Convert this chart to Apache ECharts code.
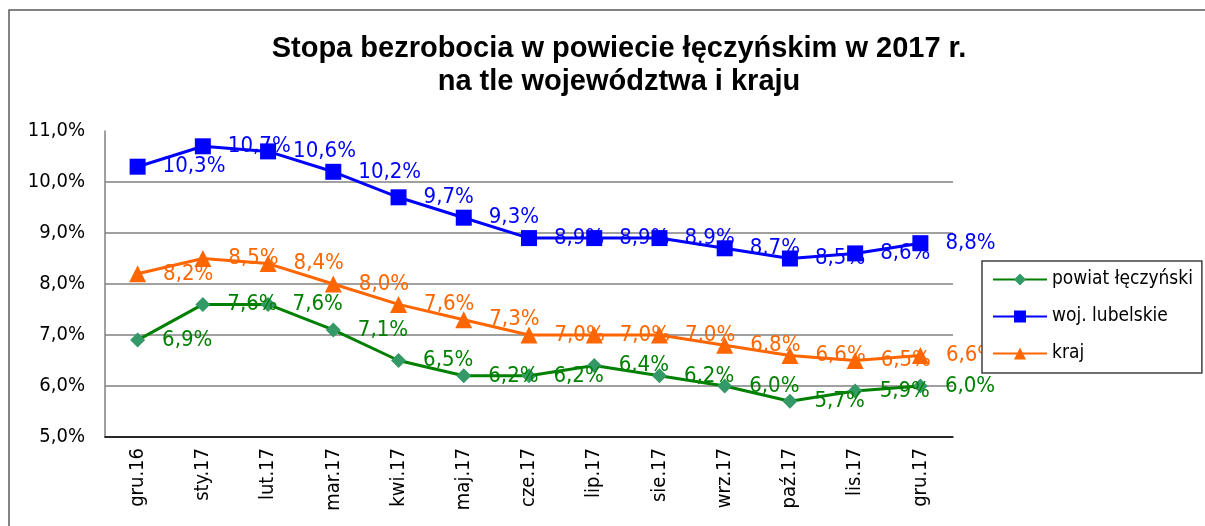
<!DOCTYPE html>
<html>
<head>
<meta charset="utf-8">
<script src="https://cdn.jsdelivr.net/npm/echarts@6/dist/echarts.min.js"></script>
<style>
  html, body { margin: 0; padding: 0; background: #fff; }
  #chart { width: 1205px; height: 526px; }
</style>
</head>
<body>
<div id="chart"></div>
<script>
// miesiące
const months = ['gru.16', 'sty.17', 'lut.17', 'mar.17', 'kwi.17', 'maj.17', 'cze.17',
  'lip.17', 'sie.17', 'wrz.17', 'paź.17', 'lis.17', 'gru.17']
// stopa bezrobocia (%)
const powiat = [6.9, 7.6, 7.6, 7.1, 6.5, 6.2, 6.2, 6.4, 6.2, 6.0, 5.7, 5.9, 6.0]
const wojewodztwo = [10.3, 10.7, 10.6, 10.2, 9.7, 9.3, 8.9, 8.9, 8.9, 8.7, 8.5, 8.6, 8.8]
const kraj = [8.2, 8.5, 8.4, 8.0, 7.6, 7.3, 7.0, 7.0, 7.0, 6.8, 6.6, 6.5, 6.6]

const font = 'Liberation Sans, Arial, sans-serif'
const narrow = '"Liberation Sans Narrow", "Arial Narrow", "DejaVu Sans Condensed", sans-serif'
const pct = v => v.toFixed(1).replace('.', ',') + '%'

function makeSeries (name, data, lineColor, markColor, symbol, size) {
  return {
    name: name,
    type: 'line',
    data: data,
    symbol: symbol,
    symbolSize: size,
    lineStyle: { color: lineColor, width: 3 },
    itemStyle: { color: markColor },
    label: {
      show: true,
      position: 'right',
      distance: 17,
      color: lineColor,
      fontSize: 22,
      fontFamily: narrow,
      formatter: p => pct(p.value)
    },
    emphasis: { disabled: true }
  }
}

const myChart = echarts.init(document.getElementById('chart'))
myChart.setOption({
  animation: false,
  title: {
    text: 'Stopa bezrobocia w powiecie łęczyńskim w 2017 r.\nna tle województwa i kraju',
    left: 614,
    top: 27,
    textAlign: 'center',
    textStyle: { fontFamily: font, fontSize: 29, fontWeight: 'bold', color: '#000', lineHeight: 33 }
  },
  // ramka wykresu
  graphic: [{
    type: 'rect',
    shape: { x: 9, y: 10, width: 1300, height: 600 },
    style: { fill: 'none', stroke: '#595959', lineWidth: 1.5 },
    silent: true
  }],
  legend: {
    orient: 'vertical',
    left: 982,
    top: 261,
    padding: [9, 9, 10, 10],
    itemWidth: 54,
    itemHeight: 15,
    itemGap: 18,
    backgroundColor: '#fff',
    borderColor: '#404040',
    borderWidth: 1.5,
    textStyle: { fontFamily: narrow, fontSize: 19, color: '#000' },
    data: ['powiat łęczyński', 'woj. lubelskie', 'kraj']
  },
  grid: { left: 105, right: 252, top: 131, bottom: 89 },
  xAxis: {
    type: 'category',
    data: months,
    axisLine: { lineStyle: { color: '#000', width: 1.5 } },
    axisTick: { show: false },
    axisLabel: { rotate: 90, fontSize: 20, fontFamily: narrow, color: '#000', margin: 11 }
  },
  yAxis: {
    type: 'value',
    min: 5,
    max: 11,
    interval: 1,
    axisLine: { show: true, lineStyle: { color: '#808080', width: 1.5 } },
    axisTick: { show: false },
    axisLabel: { fontSize: 20, fontFamily: narrow, color: '#000', margin: 20, formatter: pct },
    splitLine: { showMaxLine: false, lineStyle: { color: '#808080', width: 1.5 } }
  },
  series: [
    makeSeries('powiat łęczyński', powiat, '#008000', '#339966', 'diamond', 15),
    makeSeries('woj. lubelskie', wojewodztwo, '#0000FF', '#0000FF', 'rect', 16),
    makeSeries('kraj', kraj, '#FF6600', '#FF6600', 'triangle', 17)
  ]
})
</script>
</body>
</html>
